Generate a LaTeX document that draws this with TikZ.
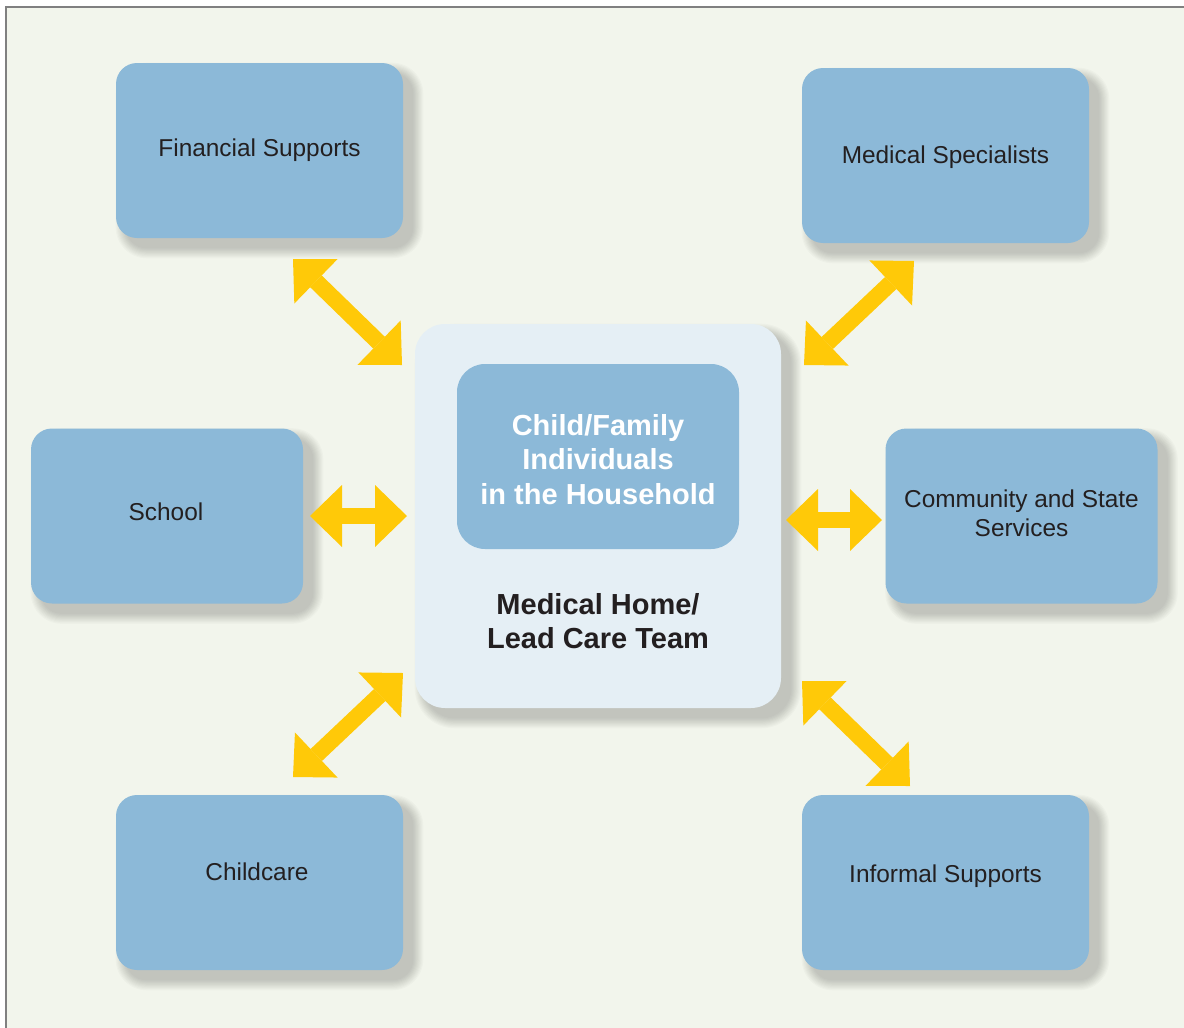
\documentclass[tikz,border=0pt]{standalone}
\usepackage{fontspec}
\setmainfont{Liberation Sans}
\usetikzlibrary{arrows.meta}
\definecolor{panelbg}{RGB}{242,245,236}
\definecolor{boxblue}{RGB}{140,185,216}
\definecolor{homeblue}{RGB}{229,239,245}
\definecolor{linkyellow}{RGB}{255,201,8}
\definecolor{textdark}{RGB}{35,31,32}
\pgfdeclarelayer{panel}
\pgfdeclarelayer{shade}
\pgfsetlayers{panel,shade,main}
\tikzset{
  partner/.style={fill=boxblue, rounded corners=10.5pt, minimum width=143.5pt, minimum height=87.5pt},
  boxtext/.style={align=center, text=textdark, font=\fontsize{12.2}{14.5}\selectfont},
  link/.style={draw=linkyellow, fill=linkyellow, line width=8.25pt, {Triangle[length=16pt, width=31pt, line width=0pt]}-{Triangle[length=16pt, width=31pt, line width=0pt]}},
}
% soft shadow below and right of a node: #1 name, #2 corner radius
\newcommand{\softshade}[2]{%
  \begin{pgfonlayer}{shade}
    \foreach \k in {0,...,9}
      \fill[black, opacity=0.021, rounded corners=#2+\k*0.55pt]
        ([shift={(5pt-\k*0.55pt,-5pt-\k*0.55pt)}]#1.south west) rectangle
        ([shift={(5pt+\k*0.55pt,-5pt+\k*0.55pt)}]#1.north east);
  \end{pgfonlayer}}
\begin{document}
\begin{tikzpicture}[x=0.5pt, y=-0.5pt]
        \useasboundingbox (0,0) rectangle (1184,1028);
        \begin{pgfonlayer}{panel}
          \fill[panelbg] (6,7) rectangle (1184,1028);
          \draw[gray, line width=0.8pt] (6,1028) -- (6,7) -- (1184,7);
        \end{pgfonlayer}
        % outer boxes
        \node[partner] (fin) at (259.5,150.5) {};
        \node[partner] (spec) at (945.5,155.5) {};
        \node[partner, minimum width=136pt] (school) at (167,516) {};
        \node[partner, minimum width=136pt] (comm) at (1021.5,516) {};
        \node[partner] (child) at (259.5,882.5) {};
        \node[partner] (informal) at (945.5,882.5) {};
        \node[boxtext] (fin-text) at (259.5,150.5) {Financial Supports};
        \node[boxtext] (spec-text) at (945.5,157.5) {Medical Specialists};
        \node[boxtext] (school-text) at (166,512) {School};
        \node[boxtext] (comm-text) at (1021.5,513) {Community and State\\Services};
        \node[boxtext] (child-text) at (257,871.5) {Childcare};
        \node[boxtext] (informal-text) at (945.5,876.5) {Informal Supports};
        % centre
        \node[fill=homeblue, rounded corners=15pt, minimum width=183pt, minimum height=192pt] (home) at (598,516) {};
        \node[fill=boxblue, rounded corners=14pt, minimum width=141pt, minimum height=92.5pt] (family) at (598,456.5) {};
        \node[align=center, text=white, font=\fontsize{14.5}{17.25}\selectfont\bfseries] (family-text) at (598,459.5) {Child/Family\\Individuals\\in the Household};
        \node[align=center, text=textdark, font=\fontsize{14.5}{17}\selectfont\bfseries] (homelabel) at (598,621) {Medical Home/\\Lead Care Team};
        \softshade{fin}{10.5pt}
        \softshade{spec}{10.5pt}
        \softshade{school}{10.5pt}
        \softshade{comm}{10.5pt}
        \softshade{child}{10.5pt}
        \softshade{informal}{10.5pt}
        \softshade{home}{15pt}
        \softshade{family}{14pt}
        % arrow ends
        \coordinate (fin-end) at (293,259);
        \coordinate (home-nw) at (402,365);
        \coordinate (spec-end) at (914,261);
        \coordinate (home-ne) at (804,365);
        \coordinate (school-end) at (310,516);
        \coordinate (home-w) at (407,516);
        \coordinate (comm-end) at (882,520);
        \coordinate (home-e) at (786,520);
        \coordinate (child-end) at (293,777);
        \coordinate (home-sw) at (403,673);
        \coordinate (informal-end) at (910,786);
        \coordinate (home-se) at (802,681);
        \draw[link] (fin-end) -- (home-nw);
        \draw[link] (spec-end) -- (home-ne);
        \draw[link] (school-end) -- (home-w);
        \draw[link] (comm-end) -- (home-e);
        \draw[link] (child-end) -- (home-sw);
        \draw[link] (informal-end) -- (home-se);
\end{tikzpicture}
\end{document}
